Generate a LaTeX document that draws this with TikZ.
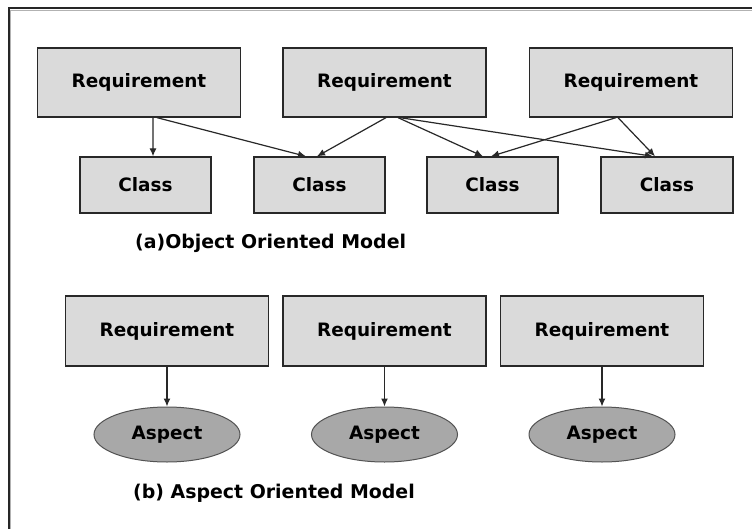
\documentclass[tikz,border=0pt]{standalone}
\usepackage{fontspec}
\setmainfont{DejaVu Sans}
\usetikzlibrary{arrows.meta,shapes.geometric}
\definecolor{boxfill}{RGB}{218,218,218}
\definecolor{aspectfill}{RGB}{168,168,168}
\definecolor{edge}{RGB}{40,40,40}
\tikzset{
  reqbox/.style={draw=edge, line width=1.3bp, fill=boxfill, rectangle, inner sep=0pt,
    minimum width=203bp, minimum height=69bp, font=\fontsize{18.5}{20}\selectfont\bfseries},
  classbox/.style={draw=edge, line width=1.3bp, fill=boxfill, rectangle, inner sep=0pt,
    minimum width=131bp, minimum height=56bp, font=\fontsize{18.5}{20}\selectfont\bfseries},
  aspectnode/.style={draw=edge!80, line width=1bp, fill=aspectfill, ellipse, inner sep=0pt,
    minimum width=146bp, minimum height=55bp, font=\fontsize{18.5}{20}\selectfont\bfseries},
  caption/.style={anchor=west, inner sep=0pt, font=\fontsize{19}{21}\selectfont\bfseries},
  link/.style={draw=edge, line width=1.2bp, -{Latex[length=8bp,width=7bp]}}
}
\begin{document}
\begin{tikzpicture}[x=1bp, y=-1bp]
  \useasboundingbox (0,0) rectangle (752,529);
  \fill[white] (0,0) rectangle (752,529);
  % frame
  \draw[gray!60, line width=1bp] (10.8,529) -- (10.8,10.3) -- (752,10.3);
  \draw[black!85, line width=2bp] (8.6,529) -- (8.6,8.2) -- (752,8.2);

  % (a) object oriented model
  \node[reqbox] (r1) at (139,82.5) {Requirement};
  \node[reqbox] (r2) at (384.5,82.5) {Requirement};
  \node[reqbox] (r3) at (631,82.5) {Requirement};
  \node[classbox] (c1) at (145.5,185) {Class};
  \node[classbox] (c2) at (319.5,185) {Class};
  \node[classbox] (c3) at (492.5,185) {Class};
  \node[classbox, minimum width=132bp] (c4) at (667,185) {Class};

  \draw[link] ([xshift=14bp]r1.south) -- ([xshift=7.5bp]c1.north);
  \draw[link] ([xshift=18bp]r1.south) -- ([xshift=-13.5bp]c2.north);
  \draw[link] ([xshift=1.5bp]r2.south) -- ([xshift=-2.5bp]c2.north);
  \draw[link] ([xshift=13.5bp]r2.south) -- ([xshift=-9.5bp]c3.north);
  \draw[link] ([xshift=15.5bp]r2.south) -- ([xshift=-14bp]c4.north);
  \draw[link] ([xshift=-15bp]r3.south) -- ([xshift=-1.5bp]c3.north);
  \draw[link] ([xshift=-13bp]r3.south) -- ([xshift=-12bp]c4.north);

  \node[caption] (capa) at (135,243) {(a)Object Oriented Model};

  % (b) aspect oriented model
  \node[reqbox, minimum height=70bp] (r4) at (167,331) {Requirement};
  \node[reqbox, minimum height=70bp] (r5) at (384.5,331) {Requirement};
  \node[reqbox, minimum height=70bp] (r6) at (602,331) {Requirement};
  \node[aspectnode] (a1) at (167,434.5) {Aspect};
  \node[aspectnode] (a2) at (384.5,434.5) {Aspect};
  \node[aspectnode] (a3) at (602,434.5) {Aspect};

  \draw[link] (r4) -- (a1);
  \draw[link] (r5) -- (a2);
  \draw[link] (r6) -- (a3);

  \node[caption] (capb) at (133,493) {(b) Aspect Oriented Model};
\end{tikzpicture}
\end{document}
